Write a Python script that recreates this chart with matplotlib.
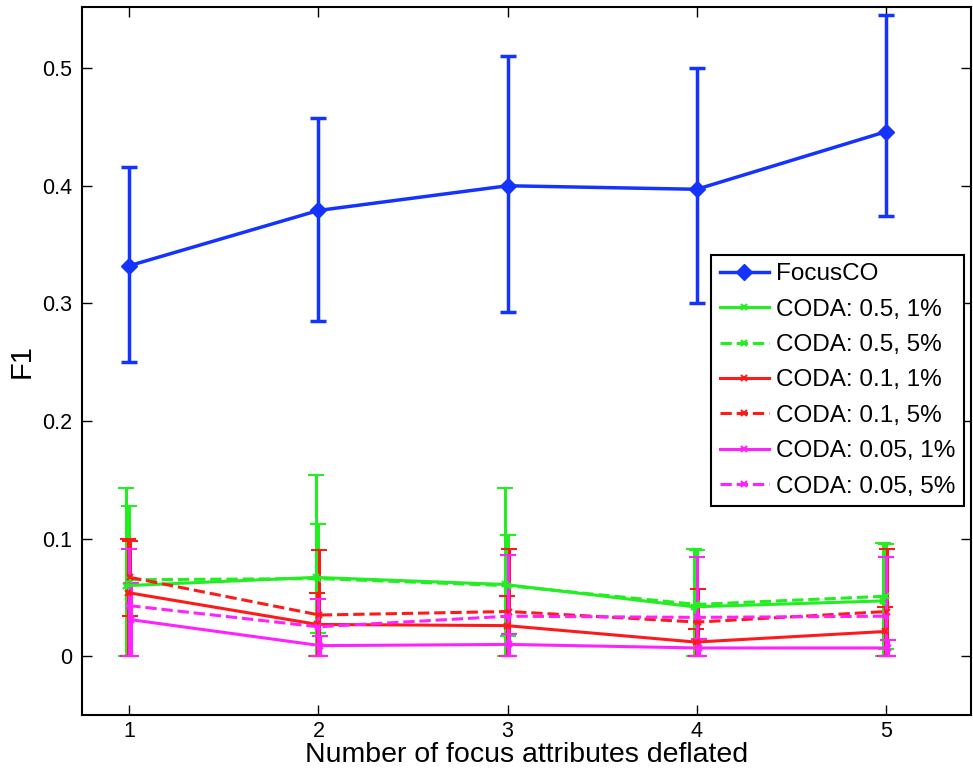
import matplotlib
matplotlib.use("Agg")
import matplotlib.pyplot as plt
from matplotlib.lines import Line2D
import numpy as np

plt.rcParams['font.family'] = ['Liberation Sans', 'DejaVu Sans']

x = [1, 2, 3, 4, 5]

# FocusCO
focus_mean = [0.332, 0.379, 0.400, 0.397, 0.446]
focus_low = [0.250, 0.285, 0.293, 0.300, 0.374]
focus_high = [0.416, 0.458, 0.510, 0.500, 0.545]

# CODA series: mean, lower end, upper end
g1_mean = [0.060, 0.067, 0.061, 0.042, 0.047]
g1_low = [0.0, 0.0, 0.0, 0.0, 0.0]
g1_high = [0.143, 0.154, 0.143, 0.091, 0.096]

g5_mean = [0.065, 0.066, 0.060, 0.044, 0.051]
g5_low = [0.0, 0.020, 0.017, 0.0, 0.006]
g5_high = [0.128, 0.112, 0.103, 0.090, 0.095]

r1_mean = [0.054, 0.027, 0.026, 0.012, 0.021]
r1_low = [0.0, 0.0, 0.0, 0.0, 0.0]
r1_high = [0.100, 0.054, 0.051, 0.023, 0.042]

r5_mean = [0.067, 0.035, 0.038, 0.029, 0.038]
r5_low = [0.034, 0.0, 0.0, 0.0, 0.0]
r5_high = [0.098, 0.090, 0.091, 0.057, 0.091]

m1_mean = [0.031, 0.009, 0.010, 0.007, 0.007]
m1_low = [0.0, 0.0, 0.0, 0.0, 0.0]
m1_high = [0.062, 0.017, 0.019, 0.015, 0.014]

m5_mean = [0.043, 0.025, 0.034, 0.033, 0.034]
m5_low = [0.0, 0.0, 0.0, 0.0, 0.0]
m5_high = [0.091, 0.049, 0.086, 0.084, 0.084]

labels = ["FocusCO", "CODA: 0.5, 1%", "CODA: 0.5, 5%", "CODA: 0.1, 1%",
          "CODA: 0.1, 5%", "CODA: 0.05, 1%", "CODA: 0.05, 5%"]

fig = plt.figure(figsize=(9.73, 7.75), dpi=100)
ax = fig.add_axes([82 / 973, 60 / 775, 889 / 973, 708 / 775])

blue = "#1433ff"
green = "#22ee22"
red = "#ff1a1a"
magenta = "#ff22ff"


def yerr(mean, low, high):
    m = np.array(mean)
    return [m - np.array(low), np.array(high) - m]


ax.errorbar(x, focus_mean, yerr=yerr(focus_mean, focus_low, focus_high),
            color=blue, marker="D", markersize=8, linewidth=2.5,
            elinewidth=2.5, capsize=6, capthick=2.5)
handles = [Line2D([], [], color=blue, marker="D", markersize=8, linewidth=2.5)]

coda = [
    (g1_mean, g1_low, g1_high, green, "-", -0.015),
    (g5_mean, g5_low, g5_high, green, "--", 0.0),
    (r1_mean, r1_low, r1_high, red, "-", -0.005),
    (r5_mean, r5_low, r5_high, red, "--", 0.005),
    (m1_mean, m1_low, m1_high, magenta, "-", 0.01),
    (m5_mean, m5_low, m5_high, magenta, "--", 0.0),
]
for mean, low, high, c, ls, off in coda:
    xs = np.array(x) + off
    eb = ax.errorbar(xs, mean, yerr=yerr(mean, low, high), color=c,
                     linestyle=ls, marker="x", markersize=4, markeredgewidth=1.5,
                     linewidth=2.2, elinewidth=2.2, capsize=6, capthick=2.2)
    eb[-1][0].set_linestyle("-")
    handles.append(Line2D([], [], color=c, linestyle=ls, linewidth=2.2,
                          marker="x", markersize=4, markeredgewidth=1.5))

ax.set_xlim(0.75, 5.45)
ax.set_ylim(-0.05, 0.552)
ax.set_xticks(x)
ax.set_yticks([0, 0.1, 0.2, 0.3, 0.4, 0.5])
ax.set_yticklabels(["0", "0.1", "0.2", "0.3", "0.4", "0.5"])
ax.tick_params(direction="in", length=7, width=1, top=True, right=True,
               labelsize=15.5)
ax.tick_params(axis="y", pad=7)
ax.tick_params(axis="x", pad=4)
for s in ax.spines.values():
    s.set_linewidth(1.5)

ax.set_xlabel("Number of focus attributes deflated", fontsize=20.5, labelpad=0)
ax.set_ylabel("F1", fontsize=21, labelpad=5)

leg = ax.legend(handles, labels, loc="upper left", bbox_to_anchor=(0.708, 0.65),
                borderaxespad=0, fontsize=17.5, fancybox=False,
                edgecolor="black", framealpha=1, handlelength=2.0,
                labelspacing=0.55, handletextpad=0.3, borderpad=0.35)
leg.get_frame().set_linewidth(1.5)

fig.savefig("out.png", dpi=100)
